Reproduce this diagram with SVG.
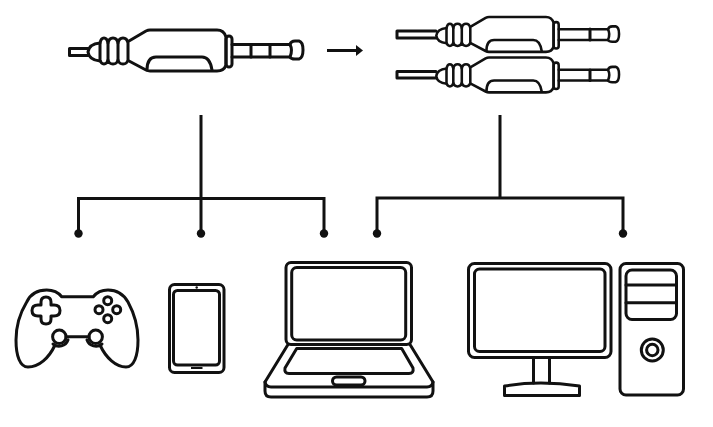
<svg xmlns="http://www.w3.org/2000/svg" width="713" height="427" viewBox="0 0 713 427">
<style>
.l{fill:none;stroke:#111;stroke-width:3;stroke-linejoin:round;stroke-linecap:round}
.c{fill:none;stroke:#111;stroke-width:3}
.d{fill:#111}
</style>
<defs>
<g id="jack">
<path class="l" d="M129 41L146 31Q148 30 150 30H217Q224 30 226 37V65Q224 71 217 71H150Q148 71 146 70L129 61"/>
<path class="l" d="M147 70Q147 57 156 57H202Q210 57 212 70"/>
<rect class="l" x="226" y="36" width="6" height="31" rx="3"/>
<path class="l" d="M232 44.500H290M232 57H290"/>
<path class="l" d="M290 44.500Q291 41 295 41H299Q303 42 303 50Q303 58 299 59H295Q291 59 290 57Q293 50 290 44.500Z"/>
<path class="l" d="M100 43Q89 44 88 52Q89 60 100 61"/>
<path class="l" d="M100 43Q101 38 104 38Q107 38 108 43Q109 38 113 38Q117 38 118 43Q119 38 123 38Q127 38 128 43V60Q127 64 123 64Q119 64 118 60Q117 64 113 64Q109 64 108 60Q107 64 104 64Q101 64 100 60Z"/>
<path class="l" d="M108 43V60M118 43V60"/>
</g>
</defs>
<rect width="713" height="427" fill="#fff"/>
<g id="connectors">
<path class="c" d="M201 115V199M78.500 233V198.500H324V233M201 199V233"/>
<path class="c" d="M500 115V198M377 233V198H623V233"/>
<circle class="d" cx="78.500" cy="233.500" r="4.200"/>
<circle class="d" cx="201" cy="233.500" r="4.200"/>
<circle class="d" cx="324" cy="233.500" r="4.200"/>
<circle class="d" cx="377" cy="233.500" r="4.200"/>
<circle class="d" cx="623" cy="233.500" r="4.200"/>
<path fill="none" stroke="#111" stroke-width="3" d="M327 50.500H357"/>
<path class="d" d="M356 45L363 50.500L356 56Z"/>
</g>
<g id="jack-large">
<use href="#jack"/>
<path class="l" d="M88 48.500H69.500V55.500H88"/>
<path class="l" d="M251 44.500V57M270 44.500V57"/>
</g>
<g id="jack-top">
<use href="#jack" transform="translate(361.500 -8.500) scale(.85)"/>
<path class="l" d="M436 31H397V38H436"/>
<path class="l" d="M590 29V40"/>
</g>
<g id="jack-bottom">
<use href="#jack" transform="translate(361.500 32) scale(.85)"/>
<path class="l" d="M436 71.500H397V78H436"/>
<path class="l" d="M590 70V80.500"/>
</g>
<g id="gamepad">
<path class="l" d="M61.700 296.700H93.300C97 292 102 290 108 290C117 290 124 295 128 302C134 313 138 325 138 340C138 356 134 367 126 367C116 367 106 358 100 345M55 345C49 358 39 367 28 367C20 367 16 356 16 340C16 325 20 313 26.700 302C30 295 37 290 46.700 290C52 290 58 292 61.700 296.700"/>
<circle class="l" cx="59.300" cy="336.700" r="6.700"/>
<circle class="l" cx="95.700" cy="336.700" r="6.700"/>
<path class="l" d="M66 336.700H89M53 344A9.500 9.500 0 0 0 68 340M102 344A9.500 9.500 0 0 1 87 340"/>
<path class="l" d="M41 302Q41 297 46 297Q51 297 51 302V305H54Q60 305 60 310.500Q60 316 54 316H51V319Q51 324 46 324Q41 324 41 319V316H38Q32 316 32 310.500Q32 305 38 305H41Z"/>
<circle class="l" cx="107.700" cy="300.700" r="4"/>
<circle class="l" cx="99" cy="309.700" r="4"/>
<circle class="l" cx="116.700" cy="309.700" r="4"/>
<circle class="l" cx="107.700" cy="318.700" r="4"/>
</g>
<g id="tablet">
<rect class="l" x="169.500" y="284.500" width="54.500" height="88" rx="5"/>
<rect class="l" x="173.500" y="290.500" width="46" height="74.500" rx="4"/>
<circle class="d" cx="196.700" cy="287.500" r="1.200"/>
<path stroke="#111" stroke-width="2" d="M191 368H202.500"/>
</g>
<g id="laptop">
<rect class="l" x="286" y="262.500" width="125.500" height="82" rx="5"/>
<rect class="l" x="291.700" y="267.500" width="114" height="72.500" rx="5"/>
<path class="l" d="M288 344.500L265 382V391Q265 397 271 397H427Q433 397 433 391V382L410 344.500"/>
<path class="l" d="M265 382Q266 387 271 387H427Q432 387 433 382"/>
<path class="l" d="M296.700 348.500H401.700L413 368Q414 373.500 409 373.500H289Q284 373.500 285 368Z"/>
<rect class="l" x="332.500" y="377" width="32.500" height="8" rx="4"/>
</g>
<g id="monitor">
<rect class="l" x="468.500" y="263.500" width="142.500" height="94" rx="6"/>
<rect class="l" x="474.500" y="269" width="130.500" height="82.500" rx="5"/>
<path class="l" d="M533.500 357.500V383M549.500 357.500V383"/>
<path class="l" d="M504.500 386Q540 380 579.500 386V395.500H504.500Z"/>
</g>
<g id="tower">
<rect class="l" x="620" y="263.500" width="63.500" height="131.500" rx="6"/>
<rect class="l" x="626" y="270" width="50.500" height="49.500" rx="6"/>
<path class="l" d="M626 285H676.500M626 302.700H676.500"/>
<circle class="l" cx="652.300" cy="350" r="11"/>
<circle class="l" cx="652.300" cy="350" r="5.700"/>
</g>
</svg>
